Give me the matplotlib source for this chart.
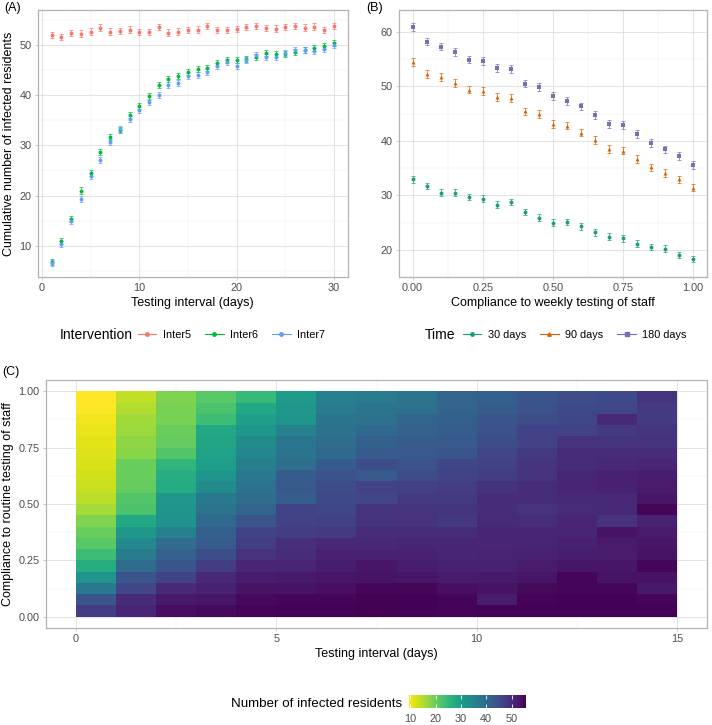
import numpy as np
import matplotlib
matplotlib.use('Agg')
import matplotlib.pyplot as plt
from matplotlib.lines import Line2D
from matplotlib.colors import Normalize

plt.rcParams['font.family'] = ['Liberation Sans', 'DejaVu Sans']

# ---- panel A data
interval = list(range(1, 31))
inter5 = [51.9, 51.5, 52.3, 52.2, 52.6, 53.4, 52.6, 52.7, 53.0, 52.5, 52.5, 53.5, 52.4, 52.6, 52.9,
          53.0, 53.7, 52.9, 52.9, 53.1, 53.5, 53.7, 53.3, 53.2, 53.5, 53.7, 53.4, 53.6, 52.9, 53.7]
inter6 = [6.8, 11.0, 15.4, 21.0, 24.5, 28.6, 31.7, 33.0, 36.1, 37.9, 39.7, 41.9, 43.1, 43.7, 44.5,
          45.2, 45.3, 46.4, 46.9, 47.0, 47.1, 47.5, 48.3, 48.2, 48.2, 48.6, 48.9, 49.3, 49.8, 50.3]
inter7 = [6.6, 10.4, 14.9, 19.3, 23.9, 27.1, 30.6, 33.3, 35.3, 37.0, 38.6, 40.0, 41.9, 42.4, 43.7,
          43.9, 44.6, 45.8, 46.5, 45.8, 46.9, 47.9, 47.5, 47.5, 48.4, 48.9, 48.9, 48.8, 49.2, 49.9]
err_a = [0.65, 0.6, 0.6]
names_a = ['Inter5', 'Inter6', 'Inter7']

# ---- panel B data
compliance = [0.00, 0.05, 0.10, 0.15, 0.20, 0.25, 0.30, 0.35, 0.40, 0.45, 0.50,
              0.55, 0.60, 0.65, 0.70, 0.75, 0.80, 0.85, 0.90, 0.95, 1.00]
days30 = [32.9, 31.7, 30.5, 30.5, 29.7, 29.4, 28.3, 28.8, 26.9, 25.9, 25.0,
          25.1, 24.3, 23.2, 22.4, 22.1, 21.1, 20.5, 20.2, 19.0, 18.3]
days90 = [54.4, 52.3, 51.7, 50.6, 49.4, 49.1, 48.0, 47.9, 45.4, 44.9, 43.1,
          42.8, 41.5, 40.2, 38.5, 38.2, 36.7, 35.1, 34.1, 32.9, 31.4]
days180 = [60.9, 58.2, 57.3, 56.3, 54.9, 54.6, 53.4, 53.2, 50.5, 49.9, 48.2,
           47.3, 46.3, 44.7, 43.1, 42.9, 41.3, 39.6, 38.4, 37.2, 35.5]
err_b = [0.6, 0.7, 0.7]
names_b = ['30 days', '90 days', '180 days']

# ---- panel C data: one list per testing interval column, compliance 1.00 (top) -> 0.05 (bottom)
hm_interval = list(range(1, 16))
hm_compliance = [1.00, 0.95, 0.90, 0.85, 0.80, 0.75, 0.70, 0.65, 0.60, 0.55,
                 0.50, 0.45, 0.40, 0.35, 0.30, 0.25, 0.20, 0.15, 0.10, 0.05]
hm_cols = [
    [9.5, 9.8, 10.5, 11, 11.5, 12, 12.3, 12.8, 13.3, 14.3, 15.8, 18.5, 20, 21.5, 24, 27, 32, 37, 43.5, 47.5],
    [14, 15, 16, 16.5, 17.3, 17.8, 20, 20, 20.5, 22, 22.5, 28, 31, 34, 36.5, 39.5, 43.5, 46, 50, 51],
    [18.5, 19, 19, 20, 20.5, 22, 25.5, 27, 27.5, 31, 31.5, 32, 35.5, 39.5, 41.5, 43.5, 46.5, 50.5, 52.5, 54],
    [21.5, 22.5, 24, 28, 28.5, 29, 30, 31.5, 33.5, 37, 38, 40, 41.8, 42.5, 45, 47.5, 50.5, 51.5, 53, 54.5],
    [24.5, 28, 30, 31, 33.5, 34.5, 36, 37, 38.5, 39.5, 41, 43.5, 46.5, 47.5, 49, 51, 52, 53.5, 54.5, 55.3],
    [30.5, 31, 31.5, 35.5, 37.5, 38, 39, 42.5, 43, 42, 46.5, 46.5, 47.5, 49.5, 50, 51, 52.5, 53.5, 55, 55.5],
    [35.5, 36.5, 38, 38.5, 39.5, 40, 42.5, 44, 45, 45.5, 46, 47, 48, 50.5, 51.5, 52, 53, 54, 55, 55.5],
    [36.5, 38, 38.2, 40, 41.8, 42.5, 45, 43, 46.5, 46, 49, 49, 50, 50.5, 51.5, 53, 53.5, 55, 55.5, 55.7],
    [38, 38.5, 41, 41.5, 42.5, 43, 44, 45, 47, 48, 49, 49.2, 50, 50.7, 51.5, 52, 53, 55, 55.5, 55.5],
    [41, 41, 41.8, 42.5, 43, 43.5, 46, 46.5, 47.5, 48, 48.5, 48.3, 50, 50.7, 51, 51.5, 52.3, 54, 55, 55.3],
    [41.8, 42.5, 43.5, 44.3, 45, 46.3, 47, 47.5, 49, 50, 50, 50.2, 51, 51, 51.2, 51.5, 52.5, 53.5, 52, 55.5],
    [43.5, 44, 45, 46.5, 46.5, 48, 48.5, 49, 50, 50, 49, 50, 51, 51, 51.5, 52.3, 53, 54.5, 55.3, 55.5],
    [45, 45.5, 45.8, 46.5, 49, 50, 50, 50.7, 51, 50.5, 50.2, 51, 51, 51.5, 52, 53, 55, 55, 55.5, 55.5],
    [45.5, 46, 50.5, 48, 49, 50, 50.5, 51.5, 51.5, 50.5, 50.5, 49, 53.5, 52.3, 52.3, 53, 53.5, 55, 55.5, 55.5],
    [49, 48, 48, 48.5, 49, 50, 51, 52, 52.3, 53, 55, 51.2, 52.3, 53, 53.5, 55, 53.5, 52.8, 55, 55.5],
]

W, H = 712, 725
fig = plt.figure(figsize=(W / 100, H / 100), dpi=100)

def box(l, t, r, b):
    return [l / W, 1 - b / H, (r - l) / W, (b - t) / H]

GRID = '#EBEBEB'
BORDER = '#B3B3B3'
TXT = '#4D4D4D'

def light_theme(ax, xmaj, xmin, ymaj, ymin):
    ax.set_xticks(xmaj)
    ax.set_xticks(xmin, minor=True)
    ax.set_yticks(ymaj)
    ax.set_yticks(ymin, minor=True)
    ax.grid(True, which='major', color='#DEDEDE', lw=0.6, zorder=0)
    ax.grid(True, which='minor', color=GRID, lw=0.35, zorder=0)
    ax.set_axisbelow(True)
    for s in ax.spines.values():
        s.set_color(BORDER)
        s.set_linewidth(0.9)
    ax.tick_params(which='major', length=2.5, width=0.5, color=BORDER, labelcolor=TXT, labelsize=7.8, pad=2)
    ax.tick_params(which='minor', length=0)

# ---- panel A
axA = fig.add_axes(box(37.6, 10, 348, 277))
cols_a = ['#F8766D', '#00BA38', '#619CFF']
for ys, c, e in zip([inter5, inter6, inter7], cols_a, err_a):
    axA.errorbar(interval, ys, yerr=e, fmt='none', ecolor=c, elinewidth=0.7, capsize=1.1, capthick=0.7, alpha=0.7, zorder=2)
    axA.plot(interval, ys, 'o', color=c, ms=2.8, mew=0, zorder=3)
axA.set_xlim(-0.45, 31.45)
axA.set_ylim(3.8, 56.9)
light_theme(axA, [0, 10, 20, 30], [5, 15, 25], [10, 20, 30, 40, 50], [5, 15, 25, 35, 45, 55])
axA.set_xlabel('Testing interval (days)', fontsize=9, labelpad=3)
axA.set_ylabel('Cumulative number of infected residents', fontsize=9, labelpad=3)
fig.text(4 / W, 1 - 8 / H, '(A)', fontsize=9, va='center', ha='left')

# ---- panel B
axB = fig.add_axes(box(398.6, 10, 707, 277))
cols_b = ['#1B9E77', '#D95F02', '#7570B3']
marks_b = ['o', '^', 's']
for ys, c, m, e in zip([days30, days90, days180], cols_b, marks_b, err_b):
    axB.errorbar(compliance, ys, yerr=e, fmt='none', ecolor=c, elinewidth=0.7, capsize=1.1, capthick=0.7, alpha=0.7, zorder=2)
    axB.plot(compliance, ys, m, color=c, ms=2.8, mew=0, zorder=3)
axB.set_xlim(-0.05, 1.05)
axB.set_ylim(15.6, 64.0)
light_theme(axB, [0, 0.25, 0.5, 0.75, 1.0], [0.125, 0.375, 0.625, 0.875], [20, 30, 40, 50, 60], [15, 25, 35, 45, 55])
axB.set_xticklabels(['0.00', '0.25', '0.50', '0.75', '1.00'])
axB.set_xlabel('Compliance to weekly testing of staff', fontsize=9, labelpad=3)
fig.text(366 / W, 1 - 8 / H, '(B)', fontsize=9, va='center', ha='left')

# ---- legends A and B
fig.text(60 / W, 1 - 335 / H, 'Intervention', fontsize=10, va='center', ha='left')
hA = [Line2D([], [], color=c, marker='o', ms=2.5, lw=0.8) for c in cols_a]
fig.legend(hA, names_a, loc='center left', bbox_to_anchor=(138 / W, 1 - 335 / H), ncol=3, frameon=False,
           fontsize=7.8, handlelength=1.7, handletextpad=0.6, columnspacing=1.3, borderaxespad=0, borderpad=0)
fig.text(425 / W, 1 - 335 / H, 'Time', fontsize=10, va='center', ha='left')
hB = [Line2D([], [], color=c, marker=m, ms=2.5, lw=0.8) for c, m in zip(cols_b, marks_b)]
fig.legend(hB, names_b, loc='center left', bbox_to_anchor=(463 / W, 1 - 335 / H), ncol=3, frameon=False,
           fontsize=7.8, handlelength=1.7, handletextpad=0.6, columnspacing=1.3, borderaxespad=0, borderpad=0)

# ---- panel C
axC = fig.add_axes(box(46, 380, 707, 628))
grid = np.array(hm_cols).T[::-1]          # rows: compliance 0.05 (bottom) -> 1.00 (top)
comp_sorted = hm_compliance[::-1]
x_edges = np.concatenate([[hm_interval[0] - 1], hm_interval])
y_edges = np.concatenate([[comp_sorted[0] - 0.05], comp_sorted])
norm = Normalize(vmin=9.5, vmax=55.7)
mesh = axC.pcolormesh(x_edges, y_edges, grid, cmap='viridis_r', norm=norm, shading='flat', zorder=2)
axC.set_xlim(-0.75, 15.75)
axC.set_ylim(-0.05, 1.05)
light_theme(axC, [0, 5, 10, 15], [2.5, 7.5, 12.5], [0, 0.25, 0.5, 0.75, 1.0], [0.125, 0.375, 0.625, 0.875])
axC.set_yticklabels(['0.00', '0.25', '0.50', '0.75', '1.00'])
axC.set_xlabel('Testing interval (days)', fontsize=9, labelpad=3)
axC.set_ylabel('Compliance to routine testing of staff', fontsize=9, labelpad=3)
fig.text(2 / W, 1 - 372 / H, '(C)', fontsize=9, va='center', ha='left')

# ---- colorbar
cax = fig.add_axes(box(409, 695, 526, 708))
cb = fig.colorbar(mesh, cax=cax, orientation='horizontal', ticks=[10, 20, 30, 40, 50])
cb.outline.set_visible(False)
cax.tick_params(axis='x', direction='in', length=3, width=0.6, color='white', labelcolor=TXT,
                labelsize=7.8, top=True, pad=4)
fig.text(402 / W, 1 - 704 / H, 'Number of infected residents', fontsize=9.6, va='center', ha='right')

fig.savefig('out.png', dpi=100)
